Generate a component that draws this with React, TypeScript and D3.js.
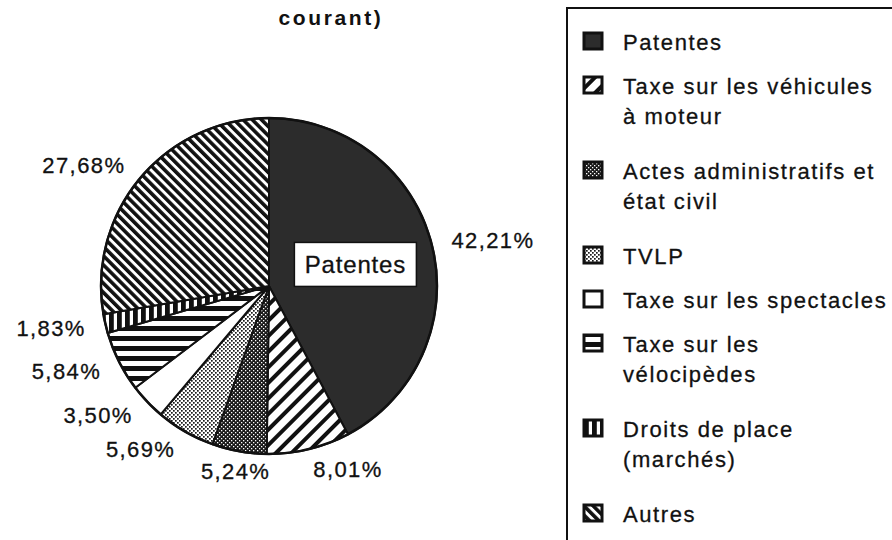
import * as d3 from 'd3';
import { useEffect, useRef } from 'react';

// parts des recettes (en %)
const categories = [
  'Patentes',
  'Taxe sur les véhicules à moteur',
  'Actes administratifs et état civil',
  'TVLP',
  'Taxe sur les spectacles',
  'Taxe sur les vélocipèdes',
  'Droits de place (marchés)',
  'Autres',
];
const values = [42.21, 8.01, 5.24, 5.69, 3.5, 5.84, 1.83, 27.68];
const valueLabels = ['42,21%', '8,01%', '5,24%', '5,69%', '3,50%', '5,84%', '1,83%', '27,68%'];
const legendLines = [
  ['Patentes'],
  ['Taxe sur les véhicules', 'à moteur'],
  ['Actes administratifs et', 'état civil'],
  ['TVLP'],
  ['Taxe sur les spectacles'],
  ['Taxe sur les', 'vélocipèdes'],
  ['Droits de place', '(marchés)'],
  ['Autres'],
];
const patternIds = ['p-solid', 'p-diag', 'p-dark', 'p-light', 'p-white', 'p-horiz', 'p-vert', 'p-fine'];

const W = 892;
const H = 540;
const FONT = '"Liberation Sans", Arial, Helvetica, sans-serif';

const App = () => {
  const svgRef = useRef<SVGSVGElement>(null);

  useEffect(() => {
    const svg = d3.select(svgRef.current);
    svg.selectAll('*').remove();

    const cx = 269;
    const cy = 286;
    const r = 168;

    // motifs de remplissage
    const defs = svg.append('defs');
    defs.append('pattern').attr('id', 'p-solid').attr('patternUnits', 'userSpaceOnUse')
      .attr('width', 4).attr('height', 4)
      .append('rect').attr('width', 4).attr('height', 4).attr('fill', '#2c2c2c');

    const stripes = (id: string, size: number, lw: number, angle: number) => {
      const p = defs.append('pattern').attr('id', id).attr('patternUnits', 'userSpaceOnUse')
        .attr('width', size).attr('height', size)
        .attr('patternTransform', `rotate(${angle})`);
      p.append('rect').attr('width', size).attr('height', size).attr('fill', '#fff');
      p.append('rect').attr('x', 0).attr('y', 0).attr('width', lw).attr('height', size).attr('fill', '#111');
    };
    stripes('p-diag', 11, 4, 45);
    stripes('p-fine', 6.5, 3.6, -45);
    stripes('p-horiz', 10, 5, 90);
    stripes('p-vert', 8, 4.8, 0);

    const dots = (id: string, bg: string, fg: string, s: number) => {
      const p = defs.append('pattern').attr('id', id).attr('patternUnits', 'userSpaceOnUse')
        .attr('width', 4).attr('height', 4);
      p.append('rect').attr('width', 4).attr('height', 4).attr('fill', bg);
      p.append('rect').attr('x', 0).attr('y', 0).attr('width', s).attr('height', s).attr('fill', fg);
      p.append('rect').attr('x', 2).attr('y', 2).attr('width', s).attr('height', s).attr('fill', fg);
    };
    dots('p-dark', '#1a1a1a', '#fff', 1.3);
    dots('p-light', '#fff', '#1a1a1a', 1.7);
    defs.append('pattern').attr('id', 'p-white').attr('patternUnits', 'userSpaceOnUse')
      .attr('width', 4).attr('height', 4)
      .append('rect').attr('width', 4).attr('height', 4).attr('fill', '#fff');

    // titre (la ligne du dessus est hors cadre)
    svg.append('text')
      .attr('x', 331).attr('y', 25)
      .attr('text-anchor', 'middle')
      .style('font-family', FONT).style('font-weight', 'bold')
      .style('font-size', '21px').style('letter-spacing', '2.6px')
      .attr('fill', '#111')
      .text('courant)');

    const pie = d3.pie<number>().sort(null).value((d) => d);
    const arcs = pie(values);
    const arc = d3.arc<d3.PieArcDatum<number>>().innerRadius(0).outerRadius(r);

    const g = svg.append('g').attr('transform', `translate(${cx},${cy})`);
    g.selectAll('.slice')
      .data(arcs)
      .join('path')
      .attr('class', 'slice')
      .attr('d', arc)
      .attr('fill', (d, i) => `url(#${patternIds[i]})`)
      .attr('stroke', '#111')
      .attr('stroke-width', 2)
      .attr('stroke-linejoin', 'round');

    g.append('circle').attr('r', r).attr('fill', 'none').attr('stroke', '#111').attr('stroke-width', 2.5);

    // étiquettes de pourcentage
    const labelR = 188;
    g.selectAll('.pct')
      .data(arcs)
      .join('text')
      .attr('class', 'pct')
      .each(function (d, i) {
        const a = (d.startAngle + d.endAngle) / 2;
        const s = Math.sin(a);
        const c = -Math.cos(a);
        d3.select(this)
          .attr('x', s * labelR)
          .attr('y', c * labelR)
          .attr('dy', '0.36em')
          .attr('text-anchor', s > 0.2 ? 'start' : s < -0.2 ? 'end' : 'middle')
          .text(valueLabels[i]);
      })
      .style('font-family', FONT)
      .style('font-size', '22px')
      .style('letter-spacing', '1.4px')
      .attr('fill', '#111')
      .attr('stroke', '#111')
      .attr('stroke-width', 0.3);

    // étiquette dans la plus grande part
    const big = arcs[0];
    const bigA = (big.startAngle + big.endAngle) / 2;
    const bx = Math.sin(bigA) * r * 0.53;
    const by = -Math.cos(bigA) * r * 0.53;
    const bw = 122;
    const bh = 44;
    g.append('rect')
      .attr('x', bx - bw / 2).attr('y', by - bh / 2)
      .attr('width', bw).attr('height', bh)
      .attr('fill', '#fff').attr('stroke', '#111').attr('stroke-width', 1.5);
    g.append('text')
      .attr('x', bx).attr('y', by).attr('dy', '0.36em')
      .attr('text-anchor', 'middle')
      .style('font-family', FONT).style('font-size', '24px').style('letter-spacing', '0.8px')
      .attr('fill', '#111').attr('stroke', '#111').attr('stroke-width', 0.3)
      .text(categories[0]);

    // légende
    svg.append('rect')
      .attr('x', 567).attr('y', 8).attr('width', 400).attr('height', 600)
      .attr('fill', '#fff').attr('stroke', '#111').attr('stroke-width', 2);

    const legend = svg.append('g');
    let y = 50;
    legendLines.forEach((lines, i) => {
      const item = legend.append('g').attr('transform', `translate(0,${y})`);
      item.append('rect')
        .attr('x', 584).attr('y', -17).attr('width', 18).attr('height', 16)
        .attr('fill', `url(#${patternIds[i]})`)
        .attr('stroke', '#111').attr('stroke-width', 3);
      lines.forEach((line, j) => {
        item.append('text')
          .attr('x', 623).attr('y', j * 30)
          .style('font-family', FONT).style('font-size', '22px').style('letter-spacing', '1.6px')
          .attr('fill', '#111').attr('stroke', '#111').attr('stroke-width', 0.3)
          .text(line);
      });
      y += lines.length > 1 ? 85 : 44;
    });
  }, []);

  return (
    <div style={{ position: 'absolute', left: 0, top: 0 }}>
      <svg ref={svgRef} width={W} height={H} style={{ display: 'block', background: '#fff' }}></svg>
    </div>
  );
};

export default App;
